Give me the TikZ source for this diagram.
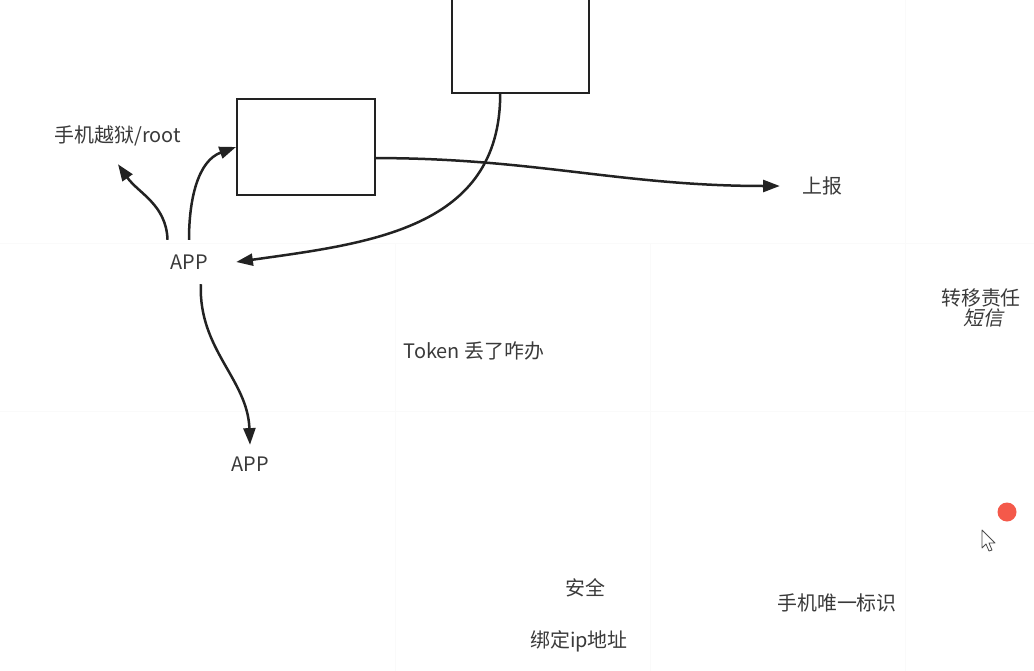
\documentclass[tikz,border=0pt]{standalone}
\usepackage{fontspec}
\setmainfont{Noto Sans CJK SC}
\newfontfamily\slantfont[FakeSlant=0.2]{Noto Sans CJK SC}
\usetikzlibrary{arrows.meta}
\definecolor{ink}{HTML}{222222}
\definecolor{txt}{HTML}{3A3A3A}
\definecolor{laser}{HTML}{F4594A}
\begin{document}
\begin{tikzpicture}[
    x=0.03cm, y=-0.03cm,
    box/.style={rectangle, draw=ink, line width=0.06cm, minimum width=4.14cm, minimum height=2.88cm},
    lbl/.style={text=txt, font=\fontsize{17}{20}\selectfont, inner sep=0pt},
    flow/.style={-{Triangle[length=0.5cm,width=0.36cm]}, draw=ink, line width=0.075cm},
    faint/.style={black!2, line width=0.03cm}
]
    \clip (0,0) rectangle (1034,671);
    \fill[white] (0,0) rectangle (1034,671);
    % faint page grid
    \draw[faint] (0,243) -- (1034,243);
    \draw[faint] (0,411) -- (1034,411);
    \draw[faint] (395,243) -- (395,671);
    \draw[faint] (650,243) -- (650,671);
    \draw[faint] (905,0) -- (905,671);

    \node[box, minimum width=4.11cm, minimum height=3.69cm] (tbox) at (520.5,31.5) {};
    \node[box] (lbox) at (306,147) {};

    \node[lbl, minimum height=1.68cm] (root) at (118,136) {手机越狱/root};
    \node[lbl, minimum width=2.82cm, minimum height=1.32cm] (app1) at (189,262) {APP};
    \node[lbl, minimum height=1.14cm] (app2) at (250,464) {APP};
    \node[lbl, minimum width=2.52cm] (report) at (822,186) {上报};
    \node[lbl] (lost) at (474,351) {Token 丢了咋办};
    \node[lbl] (duty) at (981,298) {转移责任};
    \node[lbl, font=\fontsize{17}{20}\selectfont\slantfont] (sms) at (983,318) {短信};
    \node[lbl] (safe) at (585,588) {安全};
    \node[lbl] (bindip) at (579,641) {绑定ip地址};
    \node[lbl] (devid) at (837,603) {手机唯一标识};

    \draw[flow] (app1.134) to[out=92, in=-55] (root.south);
    \draw[flow] (app1.north) to[out=90, in=200] (lbox.west);
    \draw[flow] (tbox.-108) to[out=-90, in=8, looseness=1.1] (app1.east);
    \draw[flow] (lbox.-9) to[out=0, in=180] (report.west);
    \draw[flow] (app1.-62) to[out=-92, in=92] (app2.north);

    % pointer dot and cursor
    \fill[laser] (1007,512) circle (9.5);
    \draw[black!70, fill=white, line width=0.025cm, line join=round]
        (982,530) -- (982,548) -- (986,544) -- (989,551) -- (992,550) -- (989,543) -- (995,543) -- cycle;
\end{tikzpicture}
\end{document}
